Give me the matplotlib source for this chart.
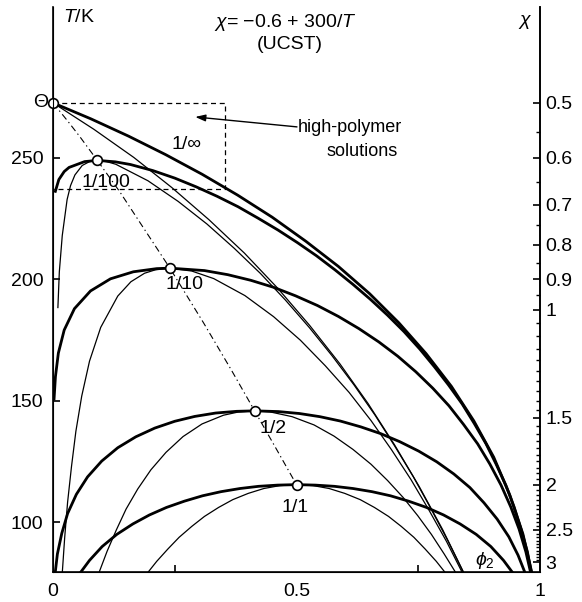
# LIBRARIES

import numpy as np
import matplotlib
matplotlib.use("Agg")
import matplotlib.pyplot as plt


# DATA  (phi2 = polymer volume fraction, T in K)

# binodals (thick)
BIN_1_PHI = [0.052, 0.075, 0.101, 0.131, 0.164, 0.198, 0.233, 0.270, 0.307, 0.345, 0.384, 0.422, 0.461, 0.500,
             0.539, 0.578, 0.616, 0.655, 0.693, 0.730, 0.767, 0.802, 0.836, 0.869, 0.899, 0.925, 0.948]
BIN_1_T = [78.0, 84.2, 89.9, 94.9, 99.2, 102.9, 106.0, 108.6, 110.8, 112.5, 113.8, 114.7, 115.2, 115.4,
           115.2, 114.7, 113.8, 112.5, 110.8, 108.6, 106.0, 102.9, 99.2, 94.9, 89.9, 84.2, 78.0]

BIN_2_PHI = [0.004, 0.009, 0.018, 0.030, 0.048, 0.071, 0.100, 0.133, 0.170, 0.209, 0.250, 0.291, 0.334, 0.377,
             0.414, 0.463, 0.506, 0.548, 0.590, 0.632, 0.673, 0.712, 0.751, 0.788, 0.823, 0.856, 0.885, 0.912,
             0.936, 0.955, 0.971]
BIN_2_T = [78.2, 86.8, 95.3, 103.5, 111.4, 118.6, 125.1, 130.6, 135.1, 138.7, 141.5, 143.5, 144.9, 145.6,
           145.8, 145.5, 144.7, 143.4, 141.6, 139.2, 136.4, 133.1, 129.2, 124.8, 119.8, 114.2, 107.9, 101.2,
           93.9, 86.3, 78.2]

BIN_10_PHI = [0.002, 0.005, 0.011, 0.023, 0.044, 0.077, 0.118, 0.165, 0.213, 0.240, 0.311, 0.359, 0.406, 0.453,
              0.498, 0.543, 0.586, 0.628, 0.669, 0.708, 0.745, 0.780, 0.813, 0.843, 0.872, 0.897, 0.920, 0.940,
              0.957, 0.971, 0.982]
BIN_10_T = [150.1, 159.9, 169.6, 179.1, 187.9, 195.2, 200.2, 203.1, 204.4, 204.6, 203.6, 201.9, 199.6, 196.7,
            193.2, 189.2, 184.7, 179.7, 174.2, 168.3, 161.9, 155.1, 147.9, 140.2, 132.2, 123.9, 115.2, 106.2,
            97.1, 87.7, 78.1]

BIN_100_PHI = [0.004, 0.012, 0.023, 0.033, 0.065, 0.091, 0.128, 0.159, 0.205, 0.250, 0.294, 0.337, 0.380, 0.421,
               0.462, 0.502, 0.541, 0.579, 0.616, 0.652, 0.687, 0.721, 0.753, 0.783, 0.812, 0.840, 0.865, 0.889,
               0.910, 0.930, 0.947, 0.961, 0.974, 0.983]
BIN_100_T = [235.7, 241.1, 244.4, 246.1, 248.5, 249.0, 248.4, 247.3, 244.8, 241.7, 238.1, 234.2, 229.9, 225.2,
             220.3, 215.1, 209.7, 203.9, 197.9, 191.7, 185.2, 178.4, 171.3, 164.0, 156.5, 148.7, 140.6, 132.3,
             123.8, 115.1, 106.1, 97.1, 87.8, 78.5]

BIN_INF_PHI = [0.000, 0.078, 0.155, 0.231, 0.306, 0.379, 0.450, 0.519, 0.586, 0.650, 0.710, 0.766, 0.818, 0.864,
               0.905, 0.938, 0.965, 0.984]
BIN_INF_T = [272.7, 266.1, 259.0, 251.4, 243.3, 234.7, 225.6, 215.7, 205.3, 194.1, 182.1, 169.4, 155.9, 141.7,
             126.7, 111.1, 95.0, 78.4]

# spinodals (thin)
SPI_1_PHI = [0.192, 0.213, 0.236, 0.259, 0.285, 0.311, 0.340, 0.369, 0.401, 0.433, 0.466, 0.500, 0.534, 0.567,
             0.599, 0.631, 0.660, 0.689, 0.715, 0.741, 0.764, 0.787, 0.808]
SPI_1_T = [78.5, 83.8, 88.9, 93.7, 98.2, 102.3, 106.0, 109.2, 111.8, 113.8, 115.0, 115.4, 115.0, 113.8,
           111.8, 109.2, 106.0, 102.3, 98.2, 93.7, 88.9, 83.8, 78.5]

SPI_2_PHI = [0.094, 0.111, 0.130, 0.150, 0.174, 0.201, 0.232, 0.267, 0.306, 0.350, 0.380, 0.414, 0.445, 0.491,
             0.536, 0.577, 0.616, 0.653, 0.687, 0.719, 0.749, 0.777, 0.803, 0.828]
SPI_2_T = [78.9, 87.9, 96.7, 105.3, 113.6, 121.5, 128.7, 135.2, 140.4, 144.0, 145.3, 145.8, 145.4, 143.4,
           140.0, 135.4, 129.9, 123.8, 117.1, 110.1, 102.6, 94.9, 86.9, 78.8]

SPI_10_PHI = [0.019, 0.024, 0.030, 0.038, 0.047, 0.059, 0.075, 0.098, 0.133, 0.160, 0.188, 0.210, 0.240, 0.285,
              0.330, 0.394, 0.453, 0.508, 0.559, 0.608, 0.653, 0.695, 0.735, 0.772, 0.808, 0.841]
SPI_10_T = [78.9, 93.6, 108.2, 122.9, 137.4, 151.9, 166.3, 180.2, 193.1, 199.0, 202.5, 203.9, 204.6, 203.4,
            200.3, 193.3, 184.6, 174.9, 164.4, 153.4, 141.8, 129.8, 117.5, 104.9, 92.0, 78.9]

SPI_100_PHI = [0.010, 0.013, 0.019, 0.029, 0.036, 0.045, 0.060, 0.075, 0.091, 0.110, 0.129, 0.195, 0.257, 0.316,
               0.372, 0.426, 0.477, 0.526, 0.573, 0.618, 0.661, 0.701, 0.740, 0.776, 0.811, 0.844]
SPI_100_T = [188.1, 203.1, 218.0, 232.9, 238.6, 243.0, 246.9, 248.5, 249.0, 248.5, 247.4, 240.6, 232.1, 222.8,
             212.8, 202.4, 191.5, 180.2, 168.5, 156.5, 144.1, 131.5, 118.6, 105.5, 92.2, 78.7]

SPI_INF_PHI = [0.000, 0.084, 0.166, 0.244, 0.320, 0.393, 0.462, 0.527, 0.589, 0.647, 0.701, 0.752, 0.800, 0.844]
SPI_INF_T = [272.7, 261.8, 250.2, 237.8, 224.6, 210.8, 196.2, 181.0, 165.2, 148.8, 131.9, 114.6, 96.9, 78.9]

# locus of critical points
CRIT_LINE_PHI = [0.000, 0.031, 0.055, 0.091, 0.137, 0.240, 0.309, 0.366, 0.414, 0.458, 0.500]
CRIT_LINE_T = [272.7, 265.0, 258.8, 249.0, 236.1, 204.6, 182.1, 162.7, 145.8, 130.3, 115.4]

# critical points (theta point first) and their labels
CRIT_PHI = [0.000, 0.091, 0.240, 0.414, 0.500]
CRIT_T = [272.7, 249.0, 204.6, 145.8, 115.4]
CURVE_LABELS = ["1/∞", "1/100", "1/10", "1/2", "1/1"]
LABEL_PHI = [0.275, 0.109, 0.269, 0.452, 0.497]
LABEL_T = [255.4, 239.7, 197.7, 138.6, 105.9]

T_TICKS = [100, 150, 200, 250]
CHI_TICKS = [0.5, 0.6, 0.7, 0.8, 0.9, 1, 1.5, 2, 2.5, 3]
CHI_TICK_LABELS = ["0.5", "0.6", "0.7", "0.8", "0.9", "1", "1.5", "2", "2.5", "3"]

T_MIN, T_MAX = 79.4, 312.2
THETA = 272.7
BOX_PHI, BOX_T = 0.353, 237.2


def chi_to_T(chi):
    return 300.0 / (np.asarray(chi, dtype=float) + 0.6)


# STYLE

plt.rcParams["font.family"] = ["Liberation Sans", "DejaVu Sans"]
plt.rcParams["mathtext.fontset"] = "custom"
plt.rcParams["mathtext.rm"] = "Liberation Sans"
plt.rcParams["mathtext.it"] = "Liberation Sans:italic"

THICK, THIN = 2.0, 0.9
FS = 14


# PLOT

fig = plt.figure(figsize=(5.82, 6.02), dpi=100)
ax = fig.add_axes([53 / 582, 30 / 602, 487 / 582, 565 / 602])

binodals = [(BIN_1_PHI, BIN_1_T), (BIN_2_PHI, BIN_2_T), (BIN_10_PHI, BIN_10_T),
            (BIN_100_PHI, BIN_100_T), (BIN_INF_PHI, BIN_INF_T)]
spinodals = [(SPI_1_PHI, SPI_1_T), (SPI_2_PHI, SPI_2_T), (SPI_10_PHI, SPI_10_T),
             (SPI_100_PHI, SPI_100_T), (SPI_INF_PHI, SPI_INF_T)]

for x, y in spinodals:
    ax.plot(x, y, color="black", lw=THIN, solid_capstyle="butt")
for x, y in binodals:
    ax.plot(x, y, color="black", lw=THICK, solid_capstyle="butt")

ax.plot(CRIT_LINE_PHI, CRIT_LINE_T, color="black", lw=0.8, dashes=[6, 3, 1.2, 3])

# high-polymer region
ax.plot([0, BOX_PHI, BOX_PHI, 0], [THETA, THETA, BOX_T, BOX_T],
        color="black", lw=0.9, dashes=[4, 3], clip_on=False)

ax.plot(CRIT_PHI, CRIT_T, "o", ms=7, mfc="white", mec="black", mew=1.2,
        clip_on=False, zorder=5)

for lab, x, y in zip(CURVE_LABELS, LABEL_PHI, LABEL_T):
    ax.text(x, y, lab, fontsize=FS, ha="center", va="center")

ax.text(-0.01, THETA, "Θ", fontsize=FS, ha="right", va="center")
ax.text(0.02, 307.7, "$T$/K", fontsize=FS, ha="left", va="center")
ax.text(0.969, 306.0, r"$\chi$", fontsize=FS, ha="center", va="center")
ax.text(0.476, 306.0, r"$\chi$= −0.6 + 300/$T$", fontsize=FS, ha="center", va="center")
ax.text(0.487, 296.6, "(UCST)", fontsize=FS, ha="center", va="center")
ax.text(0.887, 84.3, r"$\phi_2$", fontsize=FS, ha="center", va="center")

ax.annotate("", xy=(0.292, 266.9), xytext=(0.501, 262.8),
            arrowprops=dict(arrowstyle="-|>,head_length=0.6,head_width=0.2",
                            color="black", lw=1.0, shrinkA=0, shrinkB=0))
ax.text(0.503, 262.4, "high-polymer", fontsize=13, ha="left", va="center")
ax.text(0.634, 252.5, "solutions", fontsize=13, ha="center", va="center")

# axes
ax.set_xlim(0, 1)
ax.set_ylim(T_MIN, T_MAX)
ax.spines["top"].set_visible(False)
for s in ("left", "right", "bottom"):
    ax.spines[s].set_linewidth(1.2)

ax.set_xticks([0, 0.5, 1])
ax.set_xticklabels(["0", "0.5", "1"])
ax.set_xticks([0.25, 0.75], minor=True)
ax.tick_params(axis="x", which="major", length=0, pad=8, labelsize=FS)
ax.tick_params(axis="x", which="minor", direction="in", length=5, width=1.2)

ax.set_yticks(T_TICKS)
ax.tick_params(axis="y", which="major", direction="in", length=5, width=1.2, pad=7, labelsize=FS)

ax2 = ax.twinx()
ax2.set_ylim(T_MIN, T_MAX)
ax2.spines["top"].set_visible(False)
ax2.spines["right"].set_linewidth(1.2)
ax2.set_yticks(chi_to_T(CHI_TICKS))
ax2.set_yticklabels(CHI_TICK_LABELS)
minor_chi = [c for c in np.round(np.arange(0.55, 3.0, 0.05), 2) if c not in CHI_TICKS]
ax2.set_yticks(chi_to_T(minor_chi), minor=True)
ax2.tick_params(axis="y", which="major", direction="in", length=5, width=1.2, pad=4, labelsize=FS)
ax2.tick_params(axis="y", which="minor", direction="in", length=3, width=1.0)

fig.savefig("out.png", dpi=100)
